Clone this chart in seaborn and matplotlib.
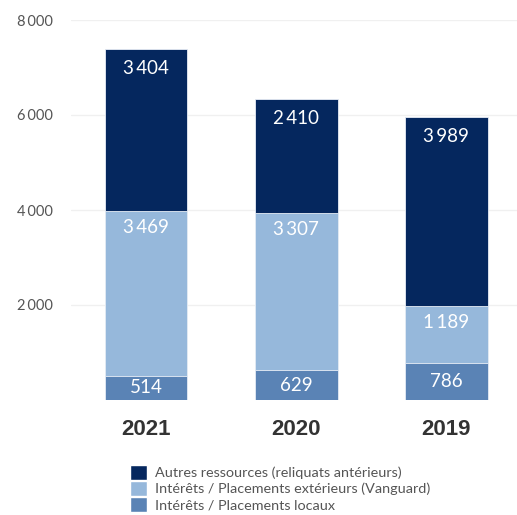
import matplotlib
matplotlib.use("Agg")
import matplotlib.pyplot as plt
import seaborn as sns
import pandas as pd
import numpy as np
from matplotlib.patches import Patch

years = ["2021", "2020", "2019"]
locaux = [514, 629, 786]
exterieurs = [3469, 3307, 1189]
autres = [3404, 2410, 3989]
series_names = ["Autres ressources (reliquats antérieurs)",
                "Intérêts / Placements extérieurs (Vanguard)",
                "Intérêts / Placements locaux"]
yticks = [2000, 4000, 6000, 8000]

c_dark = "#05275e"
c_light = "#96b8db"
c_mid = "#5a83b5"

sns.set_theme(style="white")
plt.rcParams['font.family'] = ['Lato', 'DejaVu Sans']

fig = plt.figure(figsize=(5.17, 5.15), dpi=100)
ax = fig.add_axes([71/517, 115/515, 446/517, 380/515])

df = pd.DataFrame({"year": years, "loc": locaux, "ext": exterieurs, "aut": autres})
df["s2"] = df["loc"] + df["ext"]
df["s3"] = df["s2"] + df["aut"]

for col, color in [("s3", c_dark), ("s2", c_light), ("loc", c_mid)]:
    sns.barplot(data=df, x="year", y=col, color=color, width=0.55,
                edgecolor="#e8eef6", linewidth=0.6, ax=ax, saturation=1)

def fmt(v):
    s = f"{v:,}".replace(",", "\u2009")
    return s

for i in range(len(years)):
    ax.annotate(fmt(autres[i]), (i, df["s3"][i]), xytext=(0, -14), textcoords="offset points",
                ha="center", va="center", color="white", fontsize=13.5)
    ax.annotate(fmt(exterieurs[i]), (i, df["s2"][i]), xytext=(0, -12), textcoords="offset points",
                ha="center", va="center", color="white", fontsize=13.5)
    ax.text(i, locaux[i] / 2, fmt(locaux[i]), ha="center", va="center", color="white", fontsize=13.5)

ax.set_ylim(0, 8000)
ax.set_xlim(-0.5, 2.47)
ax.set_yticks(yticks)
ax.set_yticklabels([fmt(t) for t in yticks], color="#555555", fontsize=10.5)
ax.set_xticks(range(len(years)))
ax.set_xticklabels(years, fontsize=16, fontweight="bold", color="#333333",
                   family=['Liberation Sans', 'DejaVu Sans'])
ax.tick_params(axis='x', length=0, pad=14)
ax.tick_params(axis='y', length=0, pad=13)
ax.set_xlabel("")
ax.set_ylabel("")
ax.yaxis.grid(True, color="#f0f0f0", linewidth=1)
ax.set_axisbelow(True)
for s in ax.spines.values():
    s.set_visible(False)

handles = [Patch(facecolor=c_dark), Patch(facecolor=c_light), Patch(facecolor=c_mid)]
fig.legend(handles, series_names, loc="upper left", bbox_to_anchor=(117/517, 1 - 452/515),
           frameon=False, fontsize=10.4, handlelength=1.2, handleheight=1.2,
           labelspacing=0.08, handletextpad=0.55, labelcolor="#555555")

fig.savefig("out.png", dpi=100)
